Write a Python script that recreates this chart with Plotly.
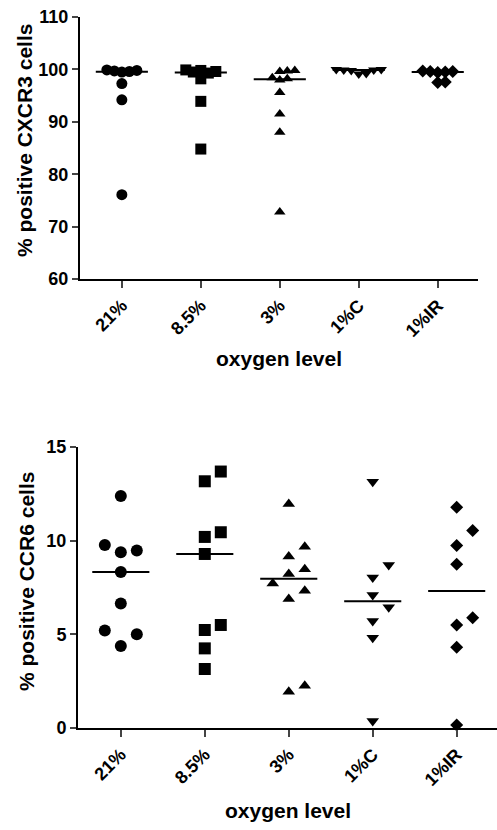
import numpy as np
import plotly.graph_objects as go

categories = ["21%", "8.5%", "3%", "1%C", "1%IR"]

cxcr3_21 = [99.9, 99.8, 99.7, 99.6, 99.5, 97.3, 94.2, 76.1]
cxcr3_85 = [99.9, 99.8, 99.6, 99.5, 99.3, 98.2, 93.9, 84.8]
cxcr3_3 = [99.8, 99.7, 99.6, 98.4, 98.2, 98.0, 95.6, 91.5, 88.0, 72.8]
cxcr3_1c = [100.0, 100.0, 99.9, 99.9, 99.8, 99.2, 99.1]
cxcr3_1ir = [99.7, 99.6, 99.6, 99.5, 99.4, 97.6, 97.5]

ccr6_21 = [12.39, 9.77, 9.47, 9.38, 8.33, 6.64, 5.21, 5.0, 4.38]
ccr6_85 = [13.69, 13.17, 10.45, 10.2, 9.29, 5.5, 5.23, 4.25, 3.15]
ccr6_3 = [11.96, 9.68, 9.15, 8.47, 8.22, 7.72, 7.33, 6.89, 2.26, 1.94]
ccr6_1c = [13.15, 8.7, 8.03, 7.1, 6.44, 5.71, 4.82, 0.37]
ccr6_1ir = [11.78, 10.54, 9.74, 8.74, 5.89, 5.5, 4.31, 0.16]

top_groups = [cxcr3_21, cxcr3_85, cxcr3_3, cxcr3_1c, cxcr3_1ir]
bot_groups = [ccr6_21, ccr6_85, ccr6_3, ccr6_1c, ccr6_1ir]
symbols = ["circle", "square", "triangle-up", "triangle-down", "diamond"]

W, H = 497, 830
FONT = "Liberation Sans, Arial, sans-serif"

# panel geometry (paper fractions)
top_dom_x = [80 / W, 478 / W]
top_dom_y = [1 - 279 / H, 1 - 17 / H]
bot_dom_x = [78 / W, 1.0]
bot_dom_y = [1 - 728 / H, 1 - 447 / H]
xr = [-0.53, 4.51]
xr_b = [-0.51, 4.48]


def swarm(vals, px_per_unit_y, px_per_unit_x, d, step):
    order = np.argsort(vals, kind="stable")
    placed = []
    offs = np.zeros(len(vals))
    cands = [0]
    for k in range(1, 12):
        cands += [k, -k]
    for i in order:
        y = vals[i] * px_per_unit_y
        for c in cands:
            x = c * step
            if all((x - px) ** 2 + (y - py) ** 2 >= d * d - 1e-6 for px, py in placed):
                placed.append((x, y))
                offs[i] = x / px_per_unit_x
                break
    return offs


fig = go.Figure()

top_pxx = (478 - 80) / (xr[1] - xr[0])
top_pxy = (279 - 17) / 50.0
bot_pxx = (W - 78) / (xr_b[1] - xr_b[0])
bot_pxy = (728 - 447) / 15.0

marker_sizes_top = [11, 11, 10, 10, 10]
marker_sizes_bot = [12, 12, 11, 11, 10]

for i, vals in enumerate(top_groups):
    offs = swarm(vals, top_pxy, top_pxx, 7.5, 7.5)
    fig.add_trace(go.Scatter(
        x=i + offs, y=vals, mode="markers", xaxis="x", yaxis="y",
        marker=dict(symbol=symbols[i], size=marker_sizes_top[i], color="black"),
        cliponaxis=False, showlegend=False))
    med = float(np.median(vals))
    fig.add_shape(type="line", xref="x", yref="y", x0=i - 0.33, x1=i + 0.33,
                  y0=med, y1=med, line=dict(color="black", width=2))

for i, vals in enumerate(bot_groups):
    offs = swarm(vals, bot_pxy, bot_pxx, 16, 16)
    fig.add_trace(go.Scatter(
        x=i + offs, y=vals, mode="markers", xaxis="x2", yaxis="y2",
        marker=dict(symbol=symbols[i], size=marker_sizes_bot[i], color="black"),
        cliponaxis=False, showlegend=False))
    med = float(np.median(vals))
    fig.add_shape(type="line", xref="x2", yref="y2", x0=i - 0.34, x1=i + 0.34,
                  y0=med, y1=med, line=dict(color="black", width=2))

tickfont = dict(family=FONT, size=18, color="black", weight="bold")
ytickfont = dict(family=FONT, size=18, color="black", weight="bold")
titlefont = dict(family=FONT, size=21, color="black", weight="bold")

xcommon = dict(tickmode="array", tickvals=list(range(len(categories))),
               ticktext=categories, tickangle=-45, ticks="outside", ticklen=7,
               tickwidth=2, showline=True, linewidth=2, linecolor="black",
               showgrid=False, zeroline=False, tickfont=tickfont, fixedrange=True,
               automargin=False)
ycommon = dict(ticks="outside", ticklen=6, tickwidth=2, showline=True,
               linewidth=2, linecolor="black", showgrid=False, zeroline=False,
               tickfont=ytickfont, fixedrange=True, automargin=False)

fig.update_layout(
    width=W, height=H, margin=dict(l=0, r=0, t=0, b=0),
    paper_bgcolor="white", plot_bgcolor="white",
    xaxis=dict(domain=top_dom_x, range=xr, anchor="y", **xcommon),
    yaxis=dict(domain=top_dom_y, range=[60, 110], dtick=10, anchor="x", **ycommon),
    xaxis2=dict(domain=bot_dom_x, range=xr_b, anchor="y2", **xcommon),
    yaxis2=dict(domain=bot_dom_y, range=[0, 15], dtick=5, anchor="x2", **ycommon),
    annotations=[
        dict(text="% positive CXCR3 cells", x=24 / W, y=1 - 141 / H, xref="paper",
             yref="paper", textangle=-90, showarrow=False, xanchor="center",
             yanchor="middle", font=titlefont),
        dict(text="oxygen level", x=279 / W, y=1 - 358 / H, xref="paper",
             yref="paper", showarrow=False, xanchor="center", yanchor="middle",
             font=titlefont),
        dict(text="% positive CCR6 cells", x=26 / W, y=1 - 582 / H, xref="paper",
             yref="paper", textangle=-90, showarrow=False, xanchor="center",
             yanchor="middle", font=titlefont),
        dict(text="oxygen level", x=288 / W, y=1 - 810 / H, xref="paper",
             yref="paper", showarrow=False, xanchor="center", yanchor="middle",
             font=titlefont),
    ],
)

fig.write_html("out.html")
